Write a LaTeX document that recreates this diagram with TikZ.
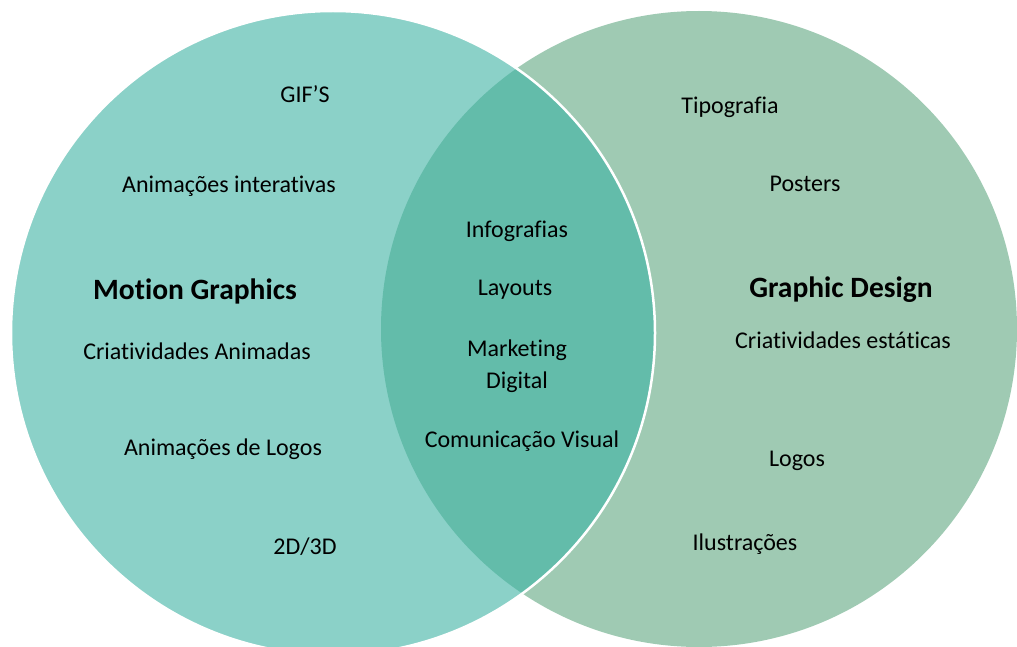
\documentclass[tikz,border=0pt]{standalone}
\usepackage{fontspec}
\setmainfont{Carlito}[RawFeature={-liga}]
\definecolor{leftc}{HTML}{8BD1C8}
\definecolor{rightc}{HTML}{9FCAB3}
\definecolor{midc}{HTML}{63BCAA}
\tikzset{
  item/.style={font=\fontsize{24}{32}\selectfont, text=black, align=center, inner sep=0pt},
  title/.style={font=\fontsize{29.5}{34}\selectfont\bfseries, text=black, inner sep=0pt}
}
\begin{document}
\begin{tikzpicture}[x=1pt,y=-1pt]
\useasboundingbox (0,0) rectangle (1017,647);
\clip (0,0) rectangle (1017,647);
\coordinate (lc) at (333,333);
\coordinate (rc) at (699,329);
% right circle
\fill[rightc] (rc) circle[radius=318];
% left circle
\fill[leftc] (lc) circle[radius=322];
% intersection
\begin{scope}
  \clip (lc) circle[radius=322];
  \fill[midc] (rc) circle[radius=318];
\end{scope}
% white outline of left circle
\draw[white, line width=2.5pt] (lc) circle[radius=322];
% left items
\node[item] (gifs) at (305,94) {GIF’S};
\node[item] (anint) at (229,186) {Animações interativas};
\node[title] (mg) at (195,291) {Motion Graphics};
\node[item] (crian) at (197,351) {Criatividades Animadas};
\node[item] (anlog) at (223,449) {Animações de Logos};
\node[item] (dd) at (305,547) {2D/3D};
% middle items
\node[item] (info) at (517,231) {Infografias};
\node[item] (lay) at (515,290) {Layouts};
\node[item] (mkt) at (517,366) {Marketing\\Digital};
\node[item] (com) at (522,441) {Comunicação Visual};
% right items
\node[item] (tipo) at (730,107) {Tipografia};
\node[item] (post) at (805,184) {Posters};
\node[title] (gd) at (841,290) {Graphic Design};
\node[item] (crest) at (843,340) {Criatividades estáticas};
\node[item] (logos) at (797,461) {Logos};
\node[item] (ilus) at (745,544) {Ilustrações};
\end{tikzpicture}
\end{document}
